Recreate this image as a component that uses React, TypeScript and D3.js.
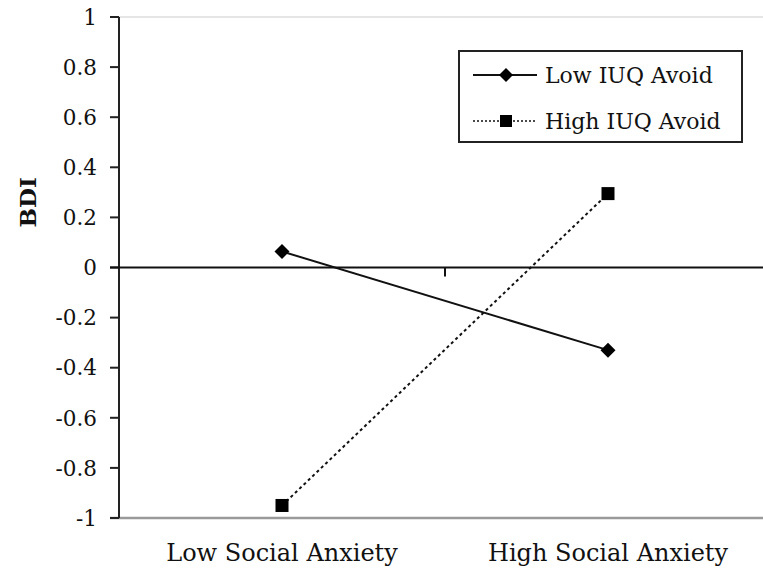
import React from "react";
import * as d3 from "d3";

const categories = ["Low Social Anxiety", "High Social Anxiety"];
const lowIUQ = [0.064, -0.33];
const highIUQ = [-0.95, 0.295];
const yTicks = [1, 0.8, 0.6, 0.4, 0.2, 0, -0.2, -0.4, -0.6, -0.8, -1];
const yTickLabels = ["1", "0.8", "0.6", "0.4", "0.2", "0", "-0.2", "-0.4", "-0.6", "-0.8", "-1"];
const seriesNames = ["Low IUQ Avoid", "High IUQ Avoid"];

const W = 763;
const H = 574;
const fontStyle = { fontFamily: "'DejaVu Serif', serif" };

export default function App() {
  const left = 119;
  const right = 771;
  const x = d3.scaleBand<string>().domain(categories).range([left, right]).padding(0);
  const y = d3.scaleLinear().domain([-1, 1]).range([518, 17]);
  const cx = (c: string) => (x(c) as number) + x.bandwidth() / 2;

  const line = d3
    .line<number>()
    .x((_, i) => cx(categories[i]))
    .y((d) => y(d));

  const diamond = (px: number, py: number, r: number) =>
    `M${px},${py - r}L${px + r},${py}L${px},${py + r}L${px - r},${py}Z`;

  const legendX = 459;
  const legendY = 51;

  return (
    <svg width={W} height={H} style={{ position: "absolute", left: 0, top: 0, background: "#fff" }}>
      <rect x={0} y={0} width={W} height={H} fill="#fff" />
      <line x1={110} x2={W} y1={y(1)} y2={y(1)} stroke="#dcdcdc" strokeWidth={1.5} />
      <line x1={110} x2={W} y1={y(-1)} y2={y(-1)} stroke="#9a9a9a" strokeWidth={2.5} />
      <line x1={left} x2={left} y1={y(1)} y2={y(-1)} stroke="#222" strokeWidth={2} />
      {yTicks.map((t, i) => (
        <g key={t}>
          <line x1={110} x2={left} y1={y(t)} y2={y(t)} stroke="#222" strokeWidth={2} />
          <text x={97} y={y(t)} dy="0.36em" textAnchor="end" style={fontStyle} fontSize={21.5} fill="#111">
            {yTickLabels[i]}
          </text>
        </g>
      ))}
      <line x1={110} x2={W} y1={y(0)} y2={y(0)} stroke="#111" strokeWidth={2} />
      <line
        x1={x(categories[1]) as number}
        x2={x(categories[1]) as number}
        y1={y(0)}
        y2={y(0) + 9}
        stroke="#111"
        strokeWidth={2}
      />
      <text
        transform={`translate(36,${y(0.26)}) rotate(-90)`}
        textAnchor="middle"
        style={fontStyle}
        fontSize={23}
        fontWeight="bold"
        fill="#111"
      >
        BDI
      </text>
      {categories.map((c) => (
        <text key={c} x={cx(c)} y={561} textAnchor="middle" style={fontStyle} fontSize={24} fill="#111">
          {c}
        </text>
      ))}
      <path d={line(lowIUQ) as string} fill="none" stroke="#111" strokeWidth={2} />
      <path d={line(highIUQ) as string} fill="none" stroke="#111" strokeWidth={2} strokeDasharray="3,3" />
      {lowIUQ.map((v, i) => (
        <path key={"d" + i} d={diamond(cx(categories[i]), y(v), 7.5)} fill="#000" />
      ))}
      {highIUQ.map((v, i) => (
        <rect key={"s" + i} x={cx(categories[i]) - 6.5} y={y(v) - 6.5} width={13} height={13} fill="#000" />
      ))}
      <rect x={legendX} y={legendY} width={283} height={91} fill="#fff" stroke="#222" strokeWidth={2} />
      <line x1={473} x2={537} y1={75} y2={75} stroke="#111" strokeWidth={2} />
      <path d={diamond(506, 75, 7)} fill="#000" />
      <text x={545} y={75} dy="0.36em" style={fontStyle} fontSize={22} fill="#111">
        {seriesNames[0]}
      </text>
      <line x1={473} x2={537} y1={121} y2={121} stroke="#111" strokeWidth={1.5} strokeDasharray="2,2" />
      <rect x={500} y={115} width={12} height={12} fill="#000" />
      <text x={545} y={121} dy="0.36em" style={fontStyle} fontSize={22} fill="#111">
        {seriesNames[1]}
      </text>
    </svg>
  );
}
